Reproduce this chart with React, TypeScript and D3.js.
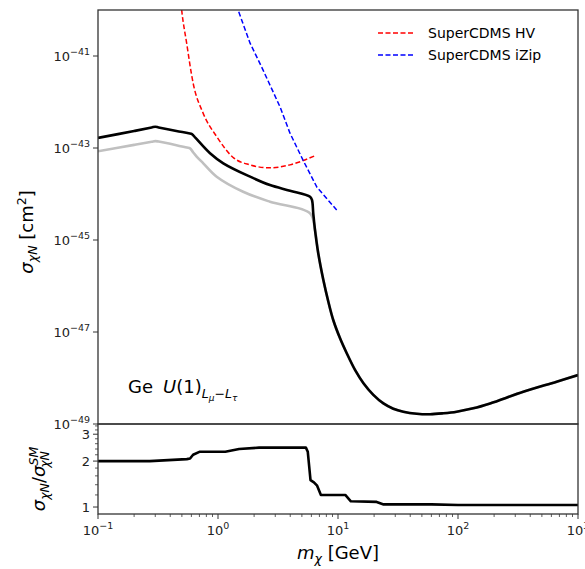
import React from "react";
import * as d3 from "d3";

// ---- data ----
const blackMass = [0.1, 0.2, 0.28, 0.3, 0.32, 0.45, 0.57, 0.607, 0.65, 0.858, 1.107, 1.85, 2.71, 3.98, 5.85, 6.07, 6.22, 6.43, 6.85, 7.55, 8.3, 9.14, 10.4, 11.8, 13.9, 16.3, 19.7, 23.9, 28.9, 35.0, 45.3, 58.5, 75.5, 97.5, 134, 185, 350, 664, 1000];
const blackSigma = [1.66e-43, 2.34e-43, 2.8e-43, 2.9e-43, 2.8e-43, 2.34e-43, 2.09e-43, 2.0e-43, 1.66e-43, 7.7e-44, 4.65e-44, 2.38e-44, 1.57e-44, 1.18e-44, 8.7e-45, 7.4e-45, 3.8e-45, 1.66e-45, 5.1e-46, 1.35e-46, 4.6e-47, 1.8e-47, 7.3e-48, 3.5e-48, 1.48e-48, 7.7e-49, 4.3e-49, 2.8e-49, 2.15e-49, 1.85e-49, 1.67e-49, 1.63e-49, 1.71e-49, 1.85e-49, 2.19e-49, 2.8e-49, 5.0e-49, 8.3e-49, 1.16e-48];

const grayMass = [0.1, 0.2, 0.28, 0.3, 0.32, 0.45, 0.55, 0.585, 0.62, 0.664, 0.754, 0.975, 1.62, 2.71, 5.85, 6.43, 6.85, 7.55, 8.3, 9.14, 10.4, 11.8, 13.9, 16.3, 19.7, 23.9, 28.9, 35.0, 45.3, 58.5, 75.5, 97.5, 134, 185, 350, 664, 1000];
const graySigma = [8.5e-44, 1.17e-43, 1.37e-43, 1.41e-43, 1.38e-43, 1.15e-43, 1.02e-43, 9.85e-44, 8.1e-44, 6.5e-44, 4.65e-44, 2.38e-44, 1.12e-44, 6.8e-45, 3.8e-45, 1.66e-45, 5.1e-46, 1.35e-46, 4.6e-47, 1.8e-47, 7.3e-48, 3.5e-48, 1.48e-48, 7.7e-49, 4.3e-49, 2.8e-49, 2.15e-49, 1.85e-49, 1.67e-49, 1.63e-49, 1.71e-49, 1.85e-49, 2.19e-49, 2.8e-49, 5.0e-49, 8.3e-49, 1.16e-48];

const hvMass = [0.49, 0.498, 0.548, 0.62, 0.75, 0.98, 1.33, 1.85, 2.71, 3.98, 6.43];
const hvSigma = [1.5e-40, 1.0e-40, 1.9e-41, 2.6e-42, 5.8e-43, 1.74e-43, 6.3e-44, 4.3e-44, 3.7e-44, 4.3e-44, 6.8e-44];

const izipMass = [1.42, 1.47, 1.85, 2.37, 3.29, 3.98, 5.1, 6.68, 9.75];
const izipSigma = [1.3e-40, 1.0e-40, 1.9e-41, 5.0e-42, 7.8e-43, 2.1e-43, 5.5e-44, 1.4e-44, 4.5e-45];

const ratioMass = [0.1, 0.27, 0.55, 0.585, 0.62, 0.7, 1.15, 1.5, 2.2, 5.4, 5.6, 5.9, 6.3, 6.7, 7.2, 11.5, 12.8, 21, 24, 60, 100, 1000];
const ratioValue = [2.0, 2.0, 2.06, 2.08, 2.2, 2.3, 2.3, 2.4, 2.45, 2.45, 2.3, 1.5, 1.45, 1.38, 1.2, 1.2, 1.09, 1.08, 1.04, 1.04, 1.03, 1.03];

const xMajorTicks = [0.1, 1, 10, 100, 1000];
const xMajorExp = ["−1", "0", "1", "2", "3"];
const yMainTicks = [1e-41, 1e-43, 1e-45, 1e-47, 1e-49];
const yMainExp = ["−41", "−43", "−45", "−47", "−49"];
const yRatioTicks = [1, 2, 3];
const yRatioMinor = [1.2, 1.4, 1.6, 1.8, 2.2, 2.4, 2.6, 2.8, 3.2, 3.4];

const legendLabels = ["SuperCDMS HV", "SuperCDMS iZip"];
const legendColors = ["#ff0000", "#0000ff"];

const FONT = "DejaVu Sans, sans-serif";

export default function App() {
  const L = 98, R = 578, T = 10, MB = 424, BB = 514;
  const x = d3.scaleLog().domain([0.1, 1000]).range([L, R]);
  const y = d3.scaleLog().domain([1e-49, 1e-40]).range([MB, T]);
  const yr = d3.scaleLog().domain([0.9, 3.5]).range([BB, MB]);

  const mk = (ms: number[], vs: number[], ys: any, curve: any) =>
    d3.line<number>().x((_, i) => x(ms[i])).y((_, i) => ys(vs[i])).curve(curve)(ms as any) || "";

  const smooth = d3.curveCatmullRom.alpha(0.5);
  const blackPath = mk(blackMass, blackSigma, y, smooth);
  const grayPath = mk(grayMass, graySigma, y, smooth);
  const hvPath = mk(hvMass, hvSigma, y, d3.curveMonotoneX);
  const izipPath = mk(izipMass, izipSigma, y, d3.curveLinear);
  const ratioPath = mk(ratioMass, ratioValue, yr, d3.curveLinear);

  const xMinor: number[] = [];
  for (let d = 0.1; d < 1000; d *= 10) for (let k = 2; k <= 9; k++) xMinor.push(d * k);

  const axisColor = "#333";
  const tickFs = 13;

  return (
    <svg width={585} height={569} style={{ display: "block", position: "absolute", left: 0, top: 0 }} fontFamily={FONT}>
      <rect width={585} height={569} fill="#fff" />
      <defs>
        <clipPath id="mainClip"><rect x={L} y={T} width={R - L} height={MB - T} /></clipPath>
        <clipPath id="ratioClip"><rect x={L} y={MB} width={R - L} height={BB - MB} /></clipPath>
      </defs>

      {/* main panel curves */}
      <g clipPath="url(#mainClip)" fill="none">
        <path d={grayPath} stroke="#c0c0c0" strokeWidth={2.6} strokeLinejoin="round" />
        <path d={blackPath} stroke="#000" strokeWidth={2.6} strokeLinejoin="round" />
        <path d={hvPath} stroke={legendColors[0]} strokeWidth={1.5} strokeDasharray="5,2.5" />
        <path d={izipPath} stroke={legendColors[1]} strokeWidth={1.5} strokeDasharray="5,2.5" />
      </g>

      {/* ratio curve */}
      <g clipPath="url(#ratioClip)" fill="none">
        <path d={ratioPath} stroke="#000" strokeWidth={2.6} strokeLinejoin="round" />
      </g>

      {/* frames */}
      <rect x={L} y={T} width={R - L} height={MB - T} fill="none" stroke={axisColor} strokeWidth={1.3} />
      <rect x={L} y={MB} width={R - L} height={BB - MB} fill="none" stroke={axisColor} strokeWidth={1.3} />

      {/* main y ticks */}
      {yMainTicks.map((t, i) => (
        <g key={"ym" + i}>
          <line x1={L - 5} x2={L} y1={y(t)} y2={y(t)} stroke={axisColor} strokeWidth={1} />
          <text x={L - 8} y={y(t) + 5} textAnchor="end" fontSize={tickFs} fill="#222">
            10<tspan dy={-6} fontSize={9.5}>{yMainExp[i]}</tspan>
          </text>
        </g>
      ))}

      {/* ratio y ticks */}
      {yRatioTicks.map((t, i) => (
        <g key={"yr" + i}>
          <line x1={L - 5} x2={L} y1={yr(t)} y2={yr(t)} stroke={axisColor} strokeWidth={1} />
          <text x={L - 8} y={yr(t) + 5} textAnchor="end" fontSize={tickFs} fill="#222">{String(t)}</text>
        </g>
      ))}
      {yRatioMinor.map((t, i) => (
        <line key={"yrm" + i} x1={L - 3} x2={L} y1={yr(t)} y2={yr(t)} stroke={axisColor} strokeWidth={0.8} />
      ))}

      {/* x ticks */}
      {xMinor.map((t, i) => (
        <line key={"xm" + i} x1={x(t)} x2={x(t)} y1={BB} y2={BB + 3} stroke={axisColor} strokeWidth={0.8} />
      ))}
      {xMajorTicks.map((t, i) => (
        <g key={"xM" + i}>
          <line x1={x(t)} x2={x(t)} y1={BB} y2={BB + 5} stroke={axisColor} strokeWidth={1} />
          <text x={x(t)} y={535} textAnchor="middle" fontSize={tickFs} fill="#222">
            10<tspan dy={-6} fontSize={9.5}>{xMajorExp[i]}</tspan>
          </text>
        </g>
      ))}

      {/* x label */}
      <text x={338} y={559} textAnchor="middle" fontSize={18} fill="#000">
        <tspan fontStyle="italic">m</tspan>
        <tspan fontStyle="italic" fontSize={12.5} dy={4}>χ</tspan>
        <tspan dy={-4}> [GeV]</tspan>
      </text>

      {/* main y label */}
      <text transform="translate(33,232) rotate(-90)" textAnchor="middle" fontSize={18} fill="#000">
        <tspan fontStyle="italic">σ</tspan>
        <tspan fontStyle="italic" fontSize={12.5} dy={4}>χN</tspan>
        <tspan dy={-4}> [cm</tspan>
        <tspan fontSize={12.5} dy={-7}>2</tspan>
        <tspan dy={7}>]</tspan>
      </text>

      {/* ratio y label */}
      <text transform="translate(45,479) rotate(-90)" textAnchor="middle" fontSize={18} fill="#000">
        <tspan fontStyle="italic">σ</tspan>
        <tspan fontStyle="italic" fontSize={12.5} dy={4}>χN</tspan>
        <tspan dy={-4}>/</tspan>
        <tspan fontStyle="italic">σ</tspan>
        <tspan fontStyle="italic" fontSize={12.5} dy={-7}>SM</tspan>
        <tspan fontStyle="italic" fontSize={12.5} dx={-21} dy={11}>χN</tspan>
      </text>

      {/* model label */}
      <text x={128} y={393} fontSize={18} fill="#000">
        <tspan>Ge</tspan>
        <tspan dx={10} fontStyle="italic">U</tspan>
        <tspan>(1)</tspan>
        <tspan fontStyle="italic" fontSize={12.5} dy={5}>L</tspan>
        <tspan fontStyle="italic" fontSize={9} dy={3}>μ</tspan>
        <tspan fontSize={12.5} dy={-3}>−</tspan>
        <tspan fontStyle="italic" fontSize={12.5}>L</tspan>
        <tspan fontStyle="italic" fontSize={9} dy={3}>τ</tspan>
      </text>

      {/* legend */}
      {legendLabels.map((lab, i) => (
        <g key={"lg" + i}>
          <line x1={378} x2={414} y1={33 + i * 22} y2={33 + i * 22} stroke={legendColors[i]} strokeWidth={1.5} strokeDasharray="5,2.5" />
          <text x={428} y={38 + i * 22} fontSize={14} fill="#000">{lab}</text>
        </g>
      ))}
    </svg>
  );
}
